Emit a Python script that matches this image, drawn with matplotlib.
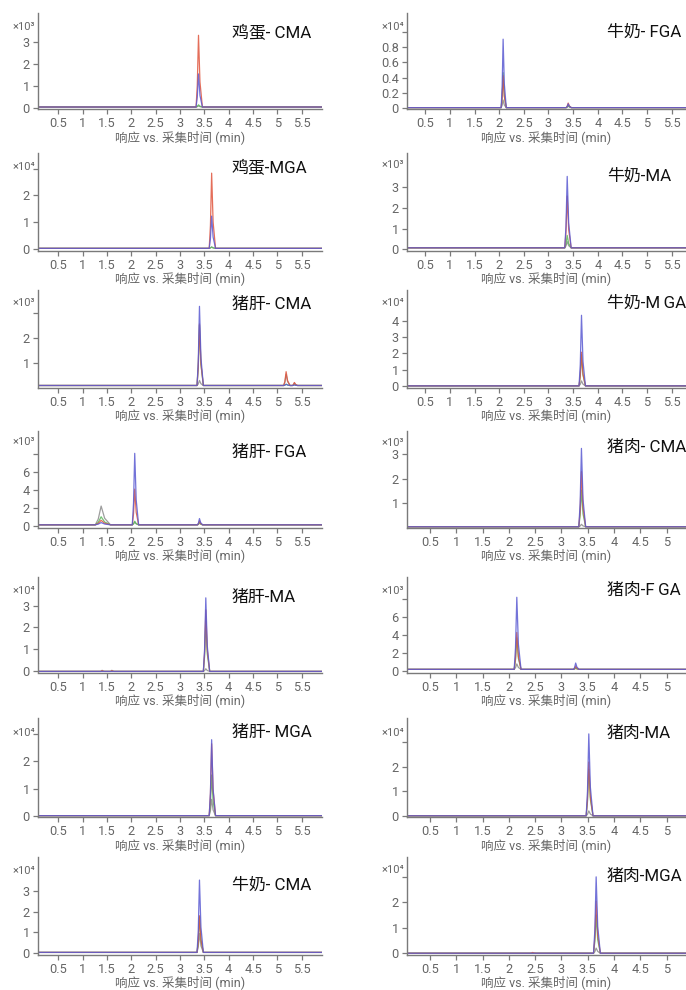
import matplotlib
matplotlib.use("Agg")
import matplotlib.pyplot as plt

plt.rcParams['font.family'] = ['Roboto', 'Noto Sans CJK SC', 'DejaVu Sans']

# ---------------- data (values in units of 10^exp) ----------------
titles = ["鸡蛋- CMA", "鸡蛋-MGA", "猪肝- CMA", "猪肝- FGA", "猪肝-MA", "猪肝- MGA", "牛奶- CMA",
          "牛奶- FGA", "牛奶-MA", "牛奶-M\u2009GA", "猪肉- CMA", "猪肉-F\u2009GA", "猪肉-MA", "猪肉-MGA"]
exponents = [3, 4, 3, 3, 4, 4, 4,
             4, 3, 4, 3, 3, 4, 4]
ytick_values = [[0, 1, 2, 3], [0, 1, 2, 3], [1, 2, 3], [0, 2, 4, 6, 8], [0, 1, 2, 3], [0, 1, 2, 3], [0, 1, 2, 3],
                [0, 0.2, 0.4, 0.6, 0.8, 1.0], [0, 1, 2, 3], [0, 1, 2, 3, 4], [1, 2, 3], [0, 2, 4, 6, 8],
                [0, 1, 2, 3], [0, 1, 2, 3]]
ytick_labels = [["0", "1", "2", "3"], ["0", "1", "2", ""], ["1", "2", ""], ["0", "2", "4", "6", ""],
                ["0", "1", "2", "3"], ["0", "1", "2", ""], ["0", "1", "2", "3"],
                ["0", "0.2", "0.4", "0.6", "0.8", ""], ["0", "1", "2", "3"], ["0", "1", "2", "3", "4"],
                ["1", "2", "3"], ["0", "2", "4", "6", ""], ["0", "1", "2", ""], ["0", "1", "2", ""]]
y_limits = [(-0.05, 4.3), (-0.05, 3.58), (0.02, 3.9), (-0.2, 10.6), (-0.05, 4.3), (-0.05, 3.6), (-0.05, 4.6),
            (-0.012, 1.25), (-0.05, 4.66), (-0.08, 5.86), (0.0, 3.94), (-0.2, 10.4), (-0.05, 4.0), (-0.05, 3.78)]
x_limits = [(0.083, 5.917)] * 7 + [(0.13, 5.79)] * 3 + [(0.06, 5.37)] * 4
xtick_values = [[0.5, 1, 1.5, 2, 2.5, 3, 3.5, 4, 4.5, 5, 5.5]] * 10 + [[0.5, 1, 1.5, 2, 2.5, 3, 3.5, 4, 4.5, 5]] * 4
xtick_labels = [["0.5", "1", "1.5", "2", "2.5", "3", "3.5", "4", "4.5", "5", "5.5"]] * 10 + \
               [["0.5", "1", "1.5", "2", "2.5", "3", "3.5", "4", "4.5", "5"]] * 4
x_label = "响应 vs. 采集时间 (min)"

baselines = [0.04, 0.03, 0.1, 0.1, 0.0, 0.0, 0.05,
             0.006, 0.08, 0.02, 0.03, 0.15, 0.0, 0.0]
peak_times = [[3.38], [3.65], [3.40, 5.18, 5.35], [1.38, 2.07, 3.40], [1.40, 1.60, 3.53], [3.65], [3.40],
              [2.08, 3.40], [3.38], [3.67], [3.38], [2.15, 3.27], [3.52], [2.45, 3.66]]
peak_widths = [[0.05], [0.05], [0.05, 0.05, 0.04], [0.12, 0.05, 0.04], [0.03, 0.03, 0.05], [0.05], [0.05],
               [0.04, 0.04], [0.05], [0.05], [0.05], [0.05, 0.04], [0.05], [0.04, 0.05]]
blue_heights = [[1.5], [1.2], [3.15, 0.05, 0.02], [0.25, 8.0, 0.7], [0.0, 0.0, 3.35], [2.8], [3.45],
                [0.9, 0.05], [3.45], [4.3], [3.2], [8.0, 0.7], [3.35], [0.0, 3.0]]
red_heights = [[3.25], [2.8], [2.45, 0.55, 0.12], [0.5, 4.0, 0.45], [0.03, 0.03, 2.8], [2.65], [1.75],
               [0.42, 0.06], [2.5], [2.05], [2.25], [4.1, 0.35], [2.2], [0.03, 2.05]]
green_heights = [[0.1], [0.05], [2.4, 0.05, 0.03], [0.9, 0.4, 0.3], [0.0, 0.0, 2.3], [1.5], [1.7],
                 [0.46, 0.03], [0.6], [1.9], [1.5], [3.5, 0.2], [1.9], [0.0, 1.5]]
grey_heights = [[0.05], [0.05], [0.2, 0.45, 0.1], [2.1, 0.3, 0.2], [0.05, 0.05, 0.12], [0.6], [0.9],
                [0.1, 0.02], [0.3], [0.3], [0.1], [0.6, 0.1], [0.2], [0.0, 0.2]]

# ---------------- layout / style ----------------
W, H = 686, 990
col_left = [38, 407]
col_right = [322, 686]
row_tops = [13, 153, 290, 431, 577, 718, 857]
row_bottoms = [109, 250.5, 387.5, 527.5, 672.5, 817, 954.5]
title_x = [232, 607]
title_y = [[33, 168, 304, 452, 597, 732, 885], [32, 176, 303, 447, 590, 733, 876]]
mult_y = [[27, 167, 303, 442, 591, 733, 871], [27, 165, 303, 443, 591, 733, 870]]

trace_colors = {'grey': '#8c8c8c', 'green': '#5cb85c', 'red': '#e0553d', 'blue': '#5a5ad2'}
shape_off = [-1.0, -0.5, 0.0, 0.6, 1.6]
shape_frac = [0.0, 0.3, 1.0, 0.35, 0.0]
axis_grey = '#7a7a7a'
label_grey = '#666666'
sup = {3: '³', 4: '⁴'}

fig = plt.figure(figsize=(W / 100, H / 100), dpi=100)


def trace(i, heights):
    xs = [x_limits[i][0] - 0.2]
    ys = [baselines[i]]
    for rt, w, h in sorted(zip(peak_times[i], peak_widths[i], heights)):
        for o, f in zip(shape_off, shape_frac):
            xs.append(rt + o * w)
            ys.append(baselines[i] + f * h)
    xs.append(x_limits[i][1] + 0.2)
    ys.append(baselines[i])
    return xs, ys


for i in range(14):
    col = 0 if i < 7 else 1
    row = i % 7
    l, r = col_left[col], col_right[col]
    t, b = row_tops[row], row_bottoms[row]
    ax = fig.add_axes([l / W, 1 - b / H, (r - l) / W, (b - t) / H])
    for name, hs in [('grey', grey_heights), ('green', green_heights), ('red', red_heights), ('blue', blue_heights)]:
        xs, ys = trace(i, hs[i])
        ax.plot(xs, ys, color=trace_colors[name], lw=0.9, alpha=0.85)
    ax.set_xlim(*x_limits[i])
    ax.set_ylim(*y_limits[i])
    ax.set_xticks(xtick_values[i])
    ax.set_xticklabels(xtick_labels[i])
    ax.set_yticks(ytick_values[i])
    ax.set_yticklabels(ytick_labels[i])
    for s in ['top', 'right']:
        ax.spines[s].set_visible(False)
    for s in ['left', 'bottom']:
        ax.spines[s].set_color(axis_grey)
        ax.spines[s].set_linewidth(1.0)
    ax.tick_params(axis='both', colors=axis_grey, labelcolor=label_grey, labelsize=9.2, length=3.5, width=0.9, pad=2.5)
    ax.set_xlabel(x_label, fontsize=9, color=label_grey, labelpad=-0.5)
    ax.patch.set_alpha(0)
    fig.text((l - 3) / W, 1 - mult_y[col][row] / H, '×10' + sup[exponents[i]], ha='right', va='center',
             fontsize=8, color=label_grey)
    fig.text(title_x[col] / W, 1 - title_y[col][row] / H, titles[i], ha='left', va='center',
             fontsize=12.2, color='#111111')

fig.savefig('out.png', dpi=100)
